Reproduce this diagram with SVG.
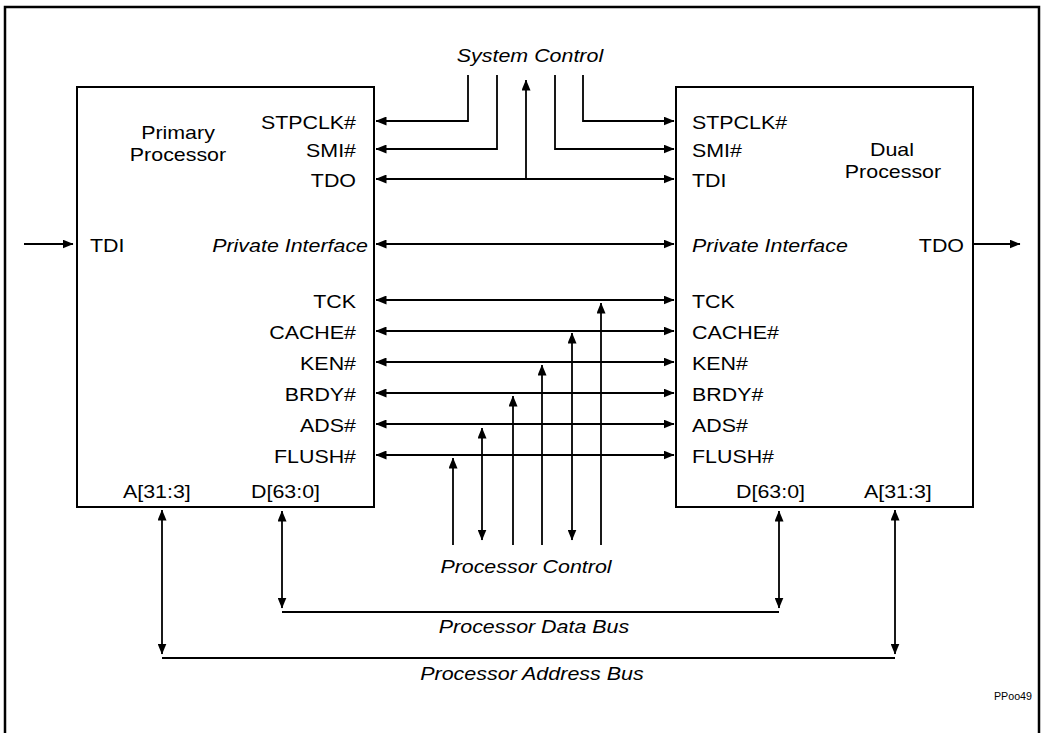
<svg xmlns="http://www.w3.org/2000/svg" width="1044" height="733" viewBox="0 0 1044 733">
<defs>
<marker id="ah" markerUnits="userSpaceOnUse" markerWidth="11" markerHeight="9" refX="10.5" refY="4.5" orient="auto-start-reverse"><path d="M0,0 L11,4.5 L0,9 z" fill="#000"/></marker>
<style>
.t{font-family:"Liberation Sans",Arial,Helvetica,sans-serif;font-size:19px;fill:#000}
.i{font-style:italic}
.e{text-anchor:end}
.m{text-anchor:middle}
.box{fill:#fff;stroke:#000;stroke-width:2}
.ln{fill:none;stroke:#000;stroke-width:1.8}
.a1{marker-end:url(#ah)}
.a2{marker-start:url(#ah);marker-end:url(#ah)}
.bus{fill:none;stroke:#000;stroke-width:2.2}
</style>
</defs>
<rect width="1044" height="733" fill="#fff"/>
<rect x="5" y="7" width="1034" height="745" fill="none" stroke="#000" stroke-width="2.5"/>

<g id="primary-processor">
<rect class="box" x="77" y="87" width="297" height="420"/>
<text class="t m" x="178" y="139" textLength="73.7" lengthAdjust="spacingAndGlyphs">Primary</text>
<text class="t m" x="178" y="161" textLength="96.3" lengthAdjust="spacingAndGlyphs">Processor</text>
<text class="t e" x="356" y="129" textLength="95.1" lengthAdjust="spacingAndGlyphs">STPCLK#</text>
<text class="t e" x="356" y="157" textLength="49.9" lengthAdjust="spacingAndGlyphs">SMI#</text>
<text class="t e" x="356" y="187" textLength="45.2" lengthAdjust="spacingAndGlyphs">TDO</text>
<text class="t" x="90" y="252" textLength="34.5" lengthAdjust="spacingAndGlyphs">TDI</text>
<text class="t i e" x="368" y="252" textLength="155.8" lengthAdjust="spacingAndGlyphs">Private Interface</text>
<text class="t e" x="356" y="308" textLength="42.8" lengthAdjust="spacingAndGlyphs">TCK</text>
<text class="t e" x="356" y="339" textLength="86.8" lengthAdjust="spacingAndGlyphs">CACHE#</text>
<text class="t e" x="356" y="370" textLength="55.9" lengthAdjust="spacingAndGlyphs">KEN#</text>
<text class="t e" x="356" y="401" textLength="71.3" lengthAdjust="spacingAndGlyphs">BRDY#</text>
<text class="t e" x="356" y="432" textLength="55.9" lengthAdjust="spacingAndGlyphs">ADS#</text>
<text class="t e" x="356" y="463" textLength="82" lengthAdjust="spacingAndGlyphs">FLUSH#</text>
<text class="t" x="123" y="498" textLength="67.8" lengthAdjust="spacingAndGlyphs">A[31:3]</text>
<text class="t" x="251" y="498" textLength="69" lengthAdjust="spacingAndGlyphs">D[63:0]</text>
</g>

<g id="dual-processor">
<rect class="box" x="676" y="87" width="297" height="420"/>
<text class="t m" x="892" y="156" textLength="44" lengthAdjust="spacingAndGlyphs">Dual</text>
<text class="t m" x="893" y="178" textLength="96.3" lengthAdjust="spacingAndGlyphs">Processor</text>
<text class="t" x="692" y="129" textLength="95.1" lengthAdjust="spacingAndGlyphs">STPCLK#</text>
<text class="t" x="692" y="157" textLength="49.9" lengthAdjust="spacingAndGlyphs">SMI#</text>
<text class="t" x="692" y="187" textLength="34.5" lengthAdjust="spacingAndGlyphs">TDI</text>
<text class="t i" x="692" y="252" textLength="155.8" lengthAdjust="spacingAndGlyphs">Private Interface</text>
<text class="t e" x="964" y="252" textLength="45.2" lengthAdjust="spacingAndGlyphs">TDO</text>
<text class="t" x="692" y="308" textLength="42.8" lengthAdjust="spacingAndGlyphs">TCK</text>
<text class="t" x="692" y="339" textLength="86.8" lengthAdjust="spacingAndGlyphs">CACHE#</text>
<text class="t" x="692" y="370" textLength="55.9" lengthAdjust="spacingAndGlyphs">KEN#</text>
<text class="t" x="692" y="401" textLength="71.3" lengthAdjust="spacingAndGlyphs">BRDY#</text>
<text class="t" x="692" y="432" textLength="55.9" lengthAdjust="spacingAndGlyphs">ADS#</text>
<text class="t" x="692" y="463" textLength="82" lengthAdjust="spacingAndGlyphs">FLUSH#</text>
<text class="t" x="736" y="498" textLength="69" lengthAdjust="spacingAndGlyphs">D[63:0]</text>
<text class="t" x="864" y="498" textLength="67.8" lengthAdjust="spacingAndGlyphs">A[31:3]</text>
</g>

<g id="connectors">
<path class="ln a1" d="M468,75 V121 H376"/>
<path class="ln a1" d="M497,75 V149 H376"/>
<path class="ln a2" d="M376,179 H674"/>
<path class="ln a1" d="M526,179 V80"/>
<path class="ln a1" d="M555,75 V149 H674"/>
<path class="ln a1" d="M583,75 V121 H674"/>
<path class="ln a2" d="M376,244 H674"/>
<path class="ln a1" d="M24,244 H73"/>
<path class="ln a1" d="M973,244 H1020"/>
<path class="ln a2" d="M376,300 H674"/>
<path class="ln a2" d="M376,331 H674"/>
<path class="ln a2" d="M376,362 H674"/>
<path class="ln a2" d="M376,393 H674"/>
<path class="ln a2" d="M376,424 H674"/>
<path class="ln a2" d="M376,455 H674"/>
<path class="ln a1" d="M453,545 V458"/>
<path class="ln a2" d="M482,428 V540"/>
<path class="ln a1" d="M513,545 V396"/>
<path class="ln a1" d="M542,545 V365"/>
<path class="ln a2" d="M572,333 V540"/>
<path class="ln a1" d="M601,545 V303"/>
<path class="ln a2" d="M162,510 V654"/>
<path class="ln a2" d="M282,511 V608"/>
<path class="ln a2" d="M779,511 V608"/>
<path class="ln a2" d="M895,510 V654"/>
<path class="bus" d="M282,612 H779"/>
<path class="bus" d="M162,658 H895"/>
</g>

<g id="bus-labels">
<text class="t i m" x="530" y="62" textLength="146.3" lengthAdjust="spacingAndGlyphs">System Control</text>
<text class="t i m" x="526" y="573" textLength="171.2" lengthAdjust="spacingAndGlyphs">Processor Control</text>
<text class="t i m" x="534" y="633" textLength="190.3" lengthAdjust="spacingAndGlyphs">Processor Data Bus</text>
<text class="t i m" x="532" y="680" textLength="223.6" lengthAdjust="spacingAndGlyphs">Processor Address Bus</text>
</g>
<text class="t e" x="1032" y="700" style="font-size:10px" textLength="38" lengthAdjust="spacingAndGlyphs">PPoo49</text>
</svg>
